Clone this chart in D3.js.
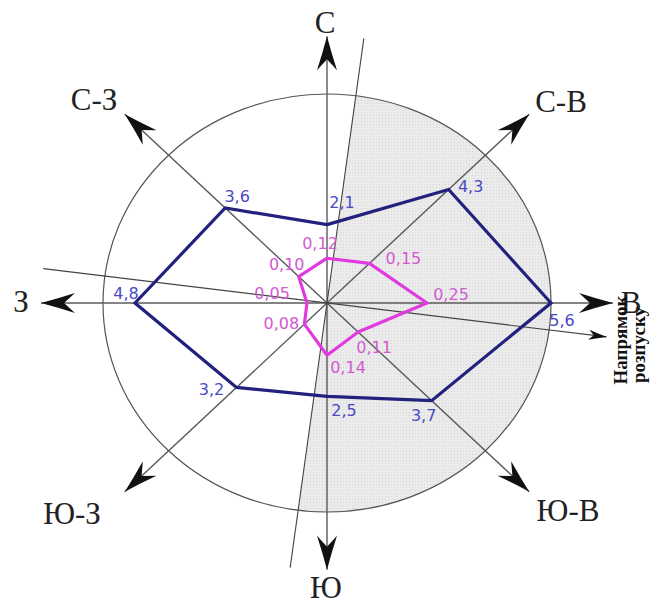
<!DOCTYPE html>
<html><head><meta charset="utf-8">
<script src="https://cdn.jsdelivr.net/npm/d3@7/dist/d3.min.js"></script>
<style>html,body{margin:0;padding:0;background:#fff;}svg{display:block;}</style>
</head><body>
<svg id="chart" width="654" height="606"></svg>
<script>
// ---- data ----
const directions = ["С", "С-В", "В", "Ю-В", "Ю", "Ю-З", "З", "С-З"];
const seriesBlue = [2.1, 4.3, 5.6, 3.7, 2.5, 3.2, 4.8, 3.6];
const seriesMagenta = [0.12, 0.15, 0.25, 0.11, 0.14, 0.08, 0.05, 0.10];
const blueLabels = ["2,1", "4,3", "5,6", "3,7", "2,5", "3,2", "4,8", "3,6"];
const magentaLabels = ["0,12", "0,15", "0,25", "0,11", "0,14", "0,08", "0,05", "0,10"];
const spreadAngle = 7.4; // degrees, direction of the dispersal line (clockwise from north)
const spreadText = ["Напрямок", "розпуску"];

// ---- layout ----
const cx = 327, cy = 303, squish = 0.933;
const ringR = 224, axisR = 286;
const rBlue = d3.scaleLinear().domain([0, 5.6]).range([0, ringR]);
const rMag = d3.scaleLinear().domain([0, 0.56]).range([0, ringR]);
const angle = d3.scaleLinear().domain([0, directions.length]).range([0, 360]);
const blueOffsets = [[15,-22],[22,-3],[11,17],[-8,15],[17,14],[-25,2],[-9,-10],[12,-11]];
const magOffsets = [[-7,-15],[34,-5],[24,-9],[16,15],[21,12],[-23,-1],[-35,-10],[-12,-12]];
const dirLabelPos = [[325,22],[561,101],[631,302],[568,510],[326,587],[72,513],[21,301],[94,99]];

function proj(deg, r) {
  const a = deg * Math.PI / 180;
  return [cx + r * Math.sin(a), cy - r * Math.cos(a) * squish];
}

const svg = d3.select("#chart");
const defs = svg.append("defs");
const pat = defs.append("pattern").attr("id", "dots").attr("width", 3).attr("height", 3)
  .attr("patternUnits", "userSpaceOnUse");
pat.append("rect").attr("width", 3).attr("height", 3).attr("fill", "#ebebeb");
pat.append("rect").attr("x", 1).attr("y", 1).attr("width", 1).attr("height", 1).attr("fill", "#d6d6d6");

// shaded half-ring
const halfPts = d3.range(0, 181, 2).map(t => proj(spreadAngle + t, ringR));
svg.append("path")
  .attr("d", "M" + cx + "," + cy + "L" + halfPts.map(p => p.join(",")).join("L") + "Z")
  .attr("fill", "url(#dots)").attr("stroke", "none");

// ring
svg.append("ellipse").attr("cx", cx).attr("cy", cy).attr("rx", ringR).attr("ry", ringR * squish)
  .attr("fill", "none").attr("stroke", "#555").attr("stroke-width", 1.2);

const lineGen = d3.line();
const axisColor = "#5a5a5a";

// main axes
directions.forEach((d, i) => {
  svg.append("path").attr("d", lineGen([[cx, cy], proj(angle(i), axisR)]))
    .attr("stroke", axisColor).attr("stroke-width", 1.4).attr("fill", "none");
});

// tilted line (perpendicular to dispersal)
svg.append("path").attr("d", lineGen([proj(spreadAngle, axisR), proj(spreadAngle + 180, axisR)]))
  .attr("stroke", "#444").attr("stroke-width", 1.1).attr("fill", "none");
// dispersal direction line
const spreadEnd = proj(spreadAngle + 90, axisR - 4);
svg.append("path").attr("d", lineGen([proj(spreadAngle + 270, axisR), spreadEnd]))
  .attr("stroke", "#444").attr("stroke-width", 1.1).attr("fill", "none");

// series polygons
const bluePts = seriesBlue.map((v, i) => proj(angle(i), rBlue(v)));
const magPts = seriesMagenta.map((v, i) => proj(angle(i), rMag(v)));
svg.append("path").attr("d", lineGen(bluePts) + "Z")
  .attr("fill", "none").attr("stroke", "#22227e").attr("stroke-width", 3.2).attr("stroke-linejoin", "miter");
svg.append("path").attr("d", lineGen(magPts) + "Z")
  .attr("fill", "none").attr("stroke", "#e03ae0").attr("stroke-width", 3.2).attr("stroke-linejoin", "round");

// value labels
svg.selectAll(".bl").data(blueLabels).enter().append("text")
  .attr("x", (d, i) => bluePts[i][0] + blueOffsets[i][0])
  .attr("y", (d, i) => bluePts[i][1] + blueOffsets[i][1])
  .attr("text-anchor", "middle").attr("dominant-baseline", "central")
  .attr("font-family", "DejaVu Sans").attr("font-size", 16).attr("fill", "#4a4ac4")
  .text(d => d);
svg.selectAll(".ml").data(magentaLabels).enter().append("text")
  .attr("x", (d, i) => magPts[i][0] + magOffsets[i][0])
  .attr("y", (d, i) => magPts[i][1] + magOffsets[i][1])
  .attr("text-anchor", "middle").attr("dominant-baseline", "central")
  .attr("font-family", "DejaVu Sans").attr("font-size", 16).attr("fill", "#d25ad2")
  .text(d => d);

// arrowheads
function arrow(tip, from, L, w, notch) {
  const ang = Math.atan2(tip[1] - from[1], tip[0] - from[0]) * 180 / Math.PI;
  svg.append("path")
    .attr("d", `M0,0 Q${-L*0.5},${-w*0.45} ${-L},${-w} L${-L+notch},0 L${-L},${w} Q${-L*0.5},${w*0.45} 0,0Z`)
    .attr("transform", `translate(${tip[0]},${tip[1]}) rotate(${ang})`)
    .attr("fill", "#111");
}
directions.forEach((d, i) => arrow(proj(angle(i), axisR), [cx, cy], 34, 10, 11));
arrow(spreadEnd, [cx, cy], 18, 5, 5);

// direction labels
svg.selectAll(".dl").data(directions).enter().append("text")
  .attr("x", (d, i) => dirLabelPos[i][0]).attr("y", (d, i) => dirLabelPos[i][1])
  .attr("text-anchor", "middle").attr("dominant-baseline", "central")
  .attr("font-family", "Liberation Serif").attr("font-size", 31).attr("fill", "#222")
  .text(d => d);

// dispersal direction caption (rotated)
const capPos = [[627, 340], [645, 345]];
spreadText.forEach((t, i) => {
  svg.append("text").attr("transform", `translate(${capPos[i][0]},${capPos[i][1]}) rotate(-90)`)
    .attr("text-anchor", "middle").attr("font-family", "Liberation Serif").attr("font-weight", "bold")
    .attr("font-size", 19).attr("fill", "#111").text(t);
});
</script>
</body></html>
